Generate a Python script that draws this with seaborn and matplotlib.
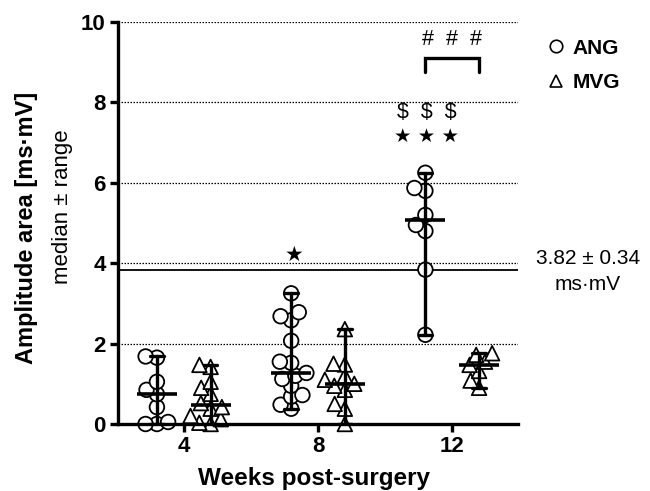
import numpy as np
import pandas as pd
import matplotlib
matplotlib.use("Agg")
import matplotlib.pyplot as plt
import seaborn as sns
from matplotlib.lines import Line2D

# ---------------- data ----------------
weeks = ["4", "8", "12"]
groups = ["ANG", "MVG"]
ang_w4 = [0.0, 0.0, 0.05, 0.42, 0.74, 0.85, 1.05, 1.65, 1.68]
mvg_w4 = [0.0, 0.03, 0.12, 0.2, 0.38, 0.42, 0.52, 0.75, 0.9, 1.05, 1.42, 1.47]
ang_w8 = [0.38, 0.48, 0.68, 0.72, 0.95, 1.12, 1.2, 1.27, 1.52, 1.55, 2.07, 2.58, 2.68, 2.78, 3.25]
mvg_w8 = [0.0, 0.38, 0.5, 0.85, 0.95, 1.0, 1.1, 1.2, 1.48, 1.5, 2.36]
ang_w12 = [2.22, 3.84, 4.8, 4.95, 5.2, 5.8, 5.87, 6.25]
mvg_w12 = [0.9, 1.08, 1.32, 1.47, 1.55, 1.72, 1.76]
ref_mean = 3.82
ref_label = "3.82 ± 0.34"
ref_unit = "ms·mV"

series = {
    ("4", "ANG"): ang_w4, ("4", "MVG"): mvg_w4,
    ("8", "ANG"): ang_w8, ("8", "MVG"): mvg_w8,
    ("12", "ANG"): ang_w12, ("12", "MVG"): mvg_w12,
}
rows = [(w, g, v) for (w, g), vals in series.items() for v in vals]
df = pd.DataFrame(rows, columns=["week", "group", "value"])

# ---------------- style ----------------
sns.set_theme(style="ticks")
plt.rcParams["font.family"] = ["Liberation Sans", "DejaVu Sans"]
for k in ["text.color", "axes.labelcolor", "xtick.color", "ytick.color",
          "axes.edgecolor"]:
    plt.rcParams[k] = "black"

W, H = 650, 491
fig = plt.figure(figsize=(W / 100, H / 100), dpi=100)
ax = fig.add_axes([118 / W, 1 - 424 / H, 400 / W, 402 / H])

markers = {"ANG": "o", "MVG": "^"}
pal = {"ANG": "white", "MVG": "white"}
n_before = len(ax.collections)
for g in groups:
    sns.swarmplot(data=df[df.group == g], x="week", y="value", hue="group",
                  order=weeks, hue_order=groups, dodge=True, palette=pal,
                  marker=markers[g], size=6.5, edgecolor="black", linewidth=1.3,
                  legend=False, ax=ax, zorder=2)
swarm_cols = list(ax.collections[n_before:])

sns.pointplot(data=df, x="week", y="value", hue="group", order=weeks,
              hue_order=groups, dodge=0.4, estimator="median",
              errorbar=lambda x: (x.min(), x.max()), capsize=0.1,
              palette={"ANG": "black", "MVG": "black"}, markers=["_", "_"],
              linestyle="none", markersize=29, markeredgewidth=2.6,
              err_kws={"linestyle": "-", "linewidth": 2.4, "zorder": 4},
              legend=False, ax=ax, zorder=4, clip_on=False)

ax.set_xlim(-0.49, 2.49)
ax.set_ylim(0, 10)
ax.set_yticks([0, 2, 4, 6, 8, 10])
ax.yaxis.grid(True, linestyle=(0, (1.2, 1.2)), color="black", linewidth=0.9)
ax.set_axisbelow(True)
ax.axhline(ref_mean, color="black", lw=1.3, zorder=1.5)

for s in ["top", "right"]:
    ax.spines[s].set_visible(False)
for s in ["left", "bottom"]:
    ax.spines[s].set_linewidth(2.4)
ax.tick_params(axis="both", length=6, width=2.4, labelsize=16, pad=3)
for lab in ax.get_xticklabels() + ax.get_yticklabels():
    lab.set_fontweight("bold")
ax.set_xlabel("")
ax.set_ylabel("")

# axis titles
fig.text(27 / W, 1 - 228 / H, "Amplitude area [ms·mV]", rotation=90,
         ha="center", va="center", fontsize=17, fontweight="bold")
fig.text(63 / W, 1 - 207 / H, "median ± range", rotation=90,
         ha="center", va="center", fontsize=16)
fig.text(314 / W, 1 - 478 / H, "Weeks post-surgery", ha="center",
         va="center", fontsize=17.5, fontweight="bold")

# reference annotation
fig.text(588 / W, 1 - 258 / H, ref_label, ha="center", va="center", fontsize=15)
fig.text(588 / W, 1 - 285 / H, ref_unit, ha="center", va="center", fontsize=15)

# significance annotations
off = 0.2
ax.text(1 - off + 0.02, 4.2, "★", ha="center", va="center", fontsize=15,
        family=["DejaVu Sans"])
ax.text(2 - off + 0.01, 7.15, "★ ★ ★", ha="center", va="center", fontsize=14,
        family=["DejaVu Sans"])
ax.text(2 - off + 0.01, 7.75, "$  $  $", ha="center", va="center",
        fontsize=15.5, parse_math=False)
ax.text(2, 9.57, "#  #  #", ha="center", va="center", fontsize=15.5)
ax.plot([2 - off, 2 - off, 2 + off, 2 + off], [8.75, 9.1, 9.1, 8.75],
        color="black", lw=2.4, solid_joinstyle="miter")

# legend
handles = [Line2D([], [], marker="o", ls="none", mfc="white", mec="black",
                  mew=1.2, ms=9),
           Line2D([], [], marker="^", ls="none", mfc="white", mec="black",
                  mew=1.2, ms=9)]
leg = ax.legend(handles, groups, loc="upper left",
                bbox_to_anchor=(540 / W - 0.02, 1 - 20 / H),
                bbox_transform=fig.transFigure, frameon=False,
                prop={"weight": "bold", "size": 15}, handletextpad=0.3,
                labelspacing=0.75, handlelength=1.0)

# lay out the swarm compactly, then enlarge markers (allowing overlap)
fig.canvas.draw()
for c in swarm_cols:
    if "draw" in c.__dict__:
        del c.__dict__["draw"]
    if len(c.get_offsets()) == 0:
        c.remove()
        continue
    c.set_sizes([10.5 ** 2])
    c.set_clip_on(False)

fig.savefig("out.png", dpi=100)
